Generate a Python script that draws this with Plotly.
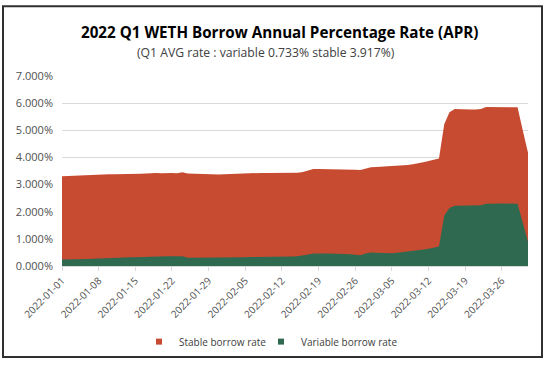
import plotly.graph_objects as go
import pandas as pd

dates = pd.date_range("2022-01-01", "2022-03-31", freq="D").strftime("%Y-%m-%d").tolist()

stable_rate = [
    3.31, 3.32, 3.32, 3.33, 3.34, 3.35, 3.35, 3.36, 3.37, 3.38,
    3.38, 3.38, 3.39, 3.39, 3.40, 3.40, 3.41, 3.43, 3.43, 3.42,
    3.43, 3.43, 3.42, 3.45, 3.41, 3.40, 3.39, 3.38, 3.38, 3.37,
    3.37, 3.38, 3.39, 3.40, 3.41, 3.42, 3.42, 3.43, 3.43, 3.43,
    3.43, 3.43, 3.43, 3.43, 3.43, 3.44, 3.46, 3.52, 3.57, 3.57,
    3.57, 3.57, 3.57, 3.56, 3.56, 3.55, 3.55, 3.54, 3.60, 3.64,
    3.65, 3.66, 3.66, 3.67, 3.69, 3.70, 3.72, 3.75, 3.78, 3.82,
    3.87, 3.91, 3.96, 5.22, 5.66, 5.78, 5.77, 5.77, 5.77, 5.77,
    5.78, 5.86, 5.86, 5.86, 5.87, 5.87, 5.87, 5.85, 5.00, 4.17,
]

variable_rate = [
    0.24, 0.24, 0.25, 0.25, 0.25, 0.26, 0.27, 0.28, 0.29, 0.30,
    0.30, 0.31, 0.31, 0.32, 0.32, 0.33, 0.34, 0.35, 0.36, 0.36,
    0.36, 0.36, 0.35, 0.36, 0.30, 0.30, 0.30, 0.30, 0.30, 0.30,
    0.30, 0.31, 0.31, 0.32, 0.32, 0.32, 0.33, 0.33, 0.34, 0.34,
    0.34, 0.35, 0.35, 0.35, 0.35, 0.36, 0.38, 0.42, 0.46, 0.47,
    0.46, 0.46, 0.46, 0.45, 0.44, 0.43, 0.42, 0.40, 0.46, 0.50,
    0.49, 0.48, 0.47, 0.47, 0.49, 0.51, 0.54, 0.56, 0.58, 0.61,
    0.64, 0.68, 0.72, 1.85, 2.14, 2.22, 2.22, 2.22, 2.22, 2.22,
    2.24, 2.29, 2.30, 2.30, 2.30, 2.30, 2.30, 2.29, 1.60, 0.89,
]

tick_dates = dates[::7]
y_ticks = [0, 1, 2, 3, 4, 5, 6, 7]
y_tick_text = ["%.3f%%" % v for v in y_ticks]

title_text = "2022 Q1 WETH Borrow Annual Percentage Rate (APR)"
subtitle_text = "(Q1 AVG rate : variable 0.733% stable 3.917%)"
series_names = ["Stable borrow rate", "Variable borrow rate"]
RED = "#C74B31"
GREEN = "#2F6A50"

W, H = 546, 368
L, R, T, B = 62, 528, 76, 272  # plot area in pixels


def px_x(p):
    return (p - L) / (R - L)


def px_y(p):
    return (B - p) / (B - T)


FONT = "Open Sans"

fig = go.Figure()
fig.add_trace(go.Scatter(x=dates, y=stable_rate, mode="lines", fill="tozeroy",
                         line=dict(width=0, color=RED), fillcolor=RED,
                         showlegend=False, name=series_names[0]))
fig.add_trace(go.Scatter(x=dates, y=variable_rate, mode="lines", fill="tozeroy",
                         line=dict(width=0, color=GREEN), fillcolor=GREEN,
                         showlegend=False, name=series_names[1]))
# legend entries
fig.add_trace(go.Scatter(x=[None], y=[None], mode="markers", name=series_names[0], legend="legend",
                         marker=dict(symbol="square", size=6, color=RED)))
fig.add_trace(go.Scatter(x=[None], y=[None], mode="markers", name=series_names[1], legend="legend2",
                         marker=dict(symbol="square", size=6, color=GREEN)))

legend_common = dict(orientation="h", yanchor="middle", xanchor="left",
                     font=dict(size=10, color="#404040"), itemwidth=30,
                     bgcolor="rgba(0,0,0,0)", borderwidth=0)

fig.update_layout(
    width=W, height=H,
    margin=dict(l=L, r=W - R, t=T, b=H - B, pad=0),
    paper_bgcolor="white", plot_bgcolor="white",
    font=dict(family=FONT, color="#595959", size=11),
    showlegend=True,
    legend=dict(x=px_x(139), y=px_y(350), **legend_common),
    legend2=dict(x=px_x(261), y=px_y(350), **legend_common),
    xaxis=dict(range=[dates[0], dates[-1]], tickmode="array", tickvals=tick_dates, ticktext=tick_dates,
               tickangle=-45, tickfont=dict(size=10, color="#505050"), showgrid=False,
               showline=True, linecolor="#D9D9D9", linewidth=1,
               ticks="outside", ticklen=4, tickcolor="#D9D9D9", zeroline=False),
    yaxis=dict(range=[0, 7], tickmode="array", tickvals=y_ticks, ticktext=y_tick_text,
               showgrid=True, gridcolor="#D9D9D9", gridwidth=1, zeroline=False,
               tickfont=dict(size=11, color="#505050"), ticks="", ticklabelstandoff=8),
    annotations=[
        dict(text="<b>" + title_text + "</b>", x=px_x(279), y=px_y(31), xref="paper", yref="paper",
             xanchor="center", yanchor="middle", showarrow=False,
             font=dict(size=15.2, color="#000000", family=FONT)),
        dict(text=subtitle_text, x=px_x(265.5), y=px_y(52), xref="paper", yref="paper",
             xanchor="center", yanchor="middle", showarrow=False,
             font=dict(size=12.2, color="#404040", family=FONT)),
    ],
    shapes=[dict(type="rect", xref="paper", yref="paper",
                 x0=px_x(3), x1=px_x(542), y0=px_y(366), y1=px_y(4),
                 line=dict(color="#303030", width=2), layer="above")],
)

fig.write_html("out.html")
